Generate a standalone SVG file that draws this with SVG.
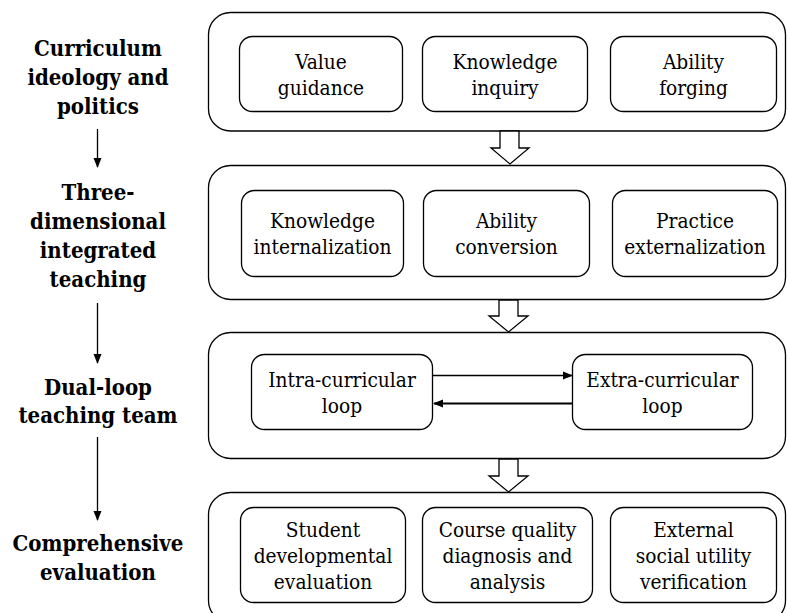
<svg xmlns="http://www.w3.org/2000/svg" width="787" height="613" viewBox="0 0 787 613">
<defs>
<style>
.outer{fill:#fff;stroke:#000;stroke-width:1.3}
.inner{fill:#fff;stroke:#000;stroke-width:1.3}
.lbl{font-family:"DejaVu Serif Condensed","DejaVu Serif",serif;font-stretch:condensed;font-weight:bold;font-size:22px;fill:#000;text-anchor:middle}
.txt{font-family:"DejaVu Serif Condensed","DejaVu Serif",serif;font-stretch:condensed;font-size:20.7px;fill:#000;text-anchor:middle}
.ln{stroke:#000;stroke-width:1.3;fill:none}
.blk{fill:#fff;stroke:#000;stroke-width:1.3}
</style>
<marker id="ah" markerWidth="10" markerHeight="10" refX="9" refY="5" orient="auto" markerUnits="userSpaceOnUse">
<path d="M0,1 L10,5 L0,9 Z" fill="#000"/>
</marker>
</defs>
<rect width="787" height="613" fill="#fff"/>

<g id="label-curriculum">
<text class="lbl" x="98" y="56">Curriculum</text>
<text class="lbl" x="98" y="85">ideology and</text>
<text class="lbl" x="98" y="114">politics</text>
</g>
<g id="label-three">
<text class="lbl" x="98" y="200">Three-</text>
<text class="lbl" x="98" y="229">dimensional</text>
<text class="lbl" x="98" y="258">integrated</text>
<text class="lbl" x="98" y="287">teaching</text>
</g>
<g id="label-dual">
<text class="lbl" x="98" y="395">Dual-loop</text>
<text class="lbl" x="98" y="423">teaching team</text>
</g>
<g id="label-comp">
<text class="lbl" x="98" y="551">Comprehensive</text>
<text class="lbl" x="98" y="580">evaluation</text>
</g>

<g id="stage1">
<rect class="outer" x="208.5" y="12.5" width="577" height="118.5" rx="22"/>
<g id="value-guidance"><rect class="inner" x="239.5" y="36.5" width="163" height="75" rx="13"/>
<text class="txt" x="321" y="69">Value</text><text class="txt" x="321" y="95">guidance</text></g>
<g id="knowledge-inquiry"><rect class="inner" x="422.5" y="36.5" width="165" height="75" rx="13"/>
<text class="txt" x="505" y="69">Knowledge</text><text class="txt" x="505" y="95">inquiry</text></g>
<g id="ability-forging"><rect class="inner" x="610.5" y="36.5" width="166" height="75" rx="13"/>
<text class="txt" x="693.5" y="69">Ability</text><text class="txt" x="693.5" y="95">forging</text></g>
</g>

<g id="stage2">
<rect class="outer" x="208.5" y="165.5" width="577" height="134" rx="22"/>
<g id="knowledge-internalization"><rect class="inner" x="241.5" y="190.5" width="162" height="86" rx="13"/>
<text class="txt" x="322.5" y="228">Knowledge</text><text class="txt" x="322.5" y="254">internalization</text></g>
<g id="ability-conversion"><rect class="inner" x="423.5" y="190.5" width="166" height="86" rx="13"/>
<text class="txt" x="506.5" y="228">Ability</text><text class="txt" x="506.5" y="254">conversion</text></g>
<g id="practice-externalization"><rect class="inner" x="612.5" y="190.5" width="165" height="86" rx="13"/>
<text class="txt" x="695" y="228">Practice</text><text class="txt" x="695" y="254">externalization</text></g>
</g>

<g id="stage3">
<rect class="outer" x="208.5" y="332.5" width="577" height="126" rx="22"/>
<g id="intra-loop"><rect class="inner" x="251.5" y="354.5" width="181" height="75" rx="13"/>
<text class="txt" x="342" y="387">Intra-curricular</text><text class="txt" x="342" y="413">loop</text></g>
<g id="extra-loop"><rect class="inner" x="572.5" y="354.5" width="180" height="75" rx="13"/>
<text class="txt" x="662.5" y="387">Extra-curricular</text><text class="txt" x="662.5" y="413">loop</text></g>
</g>

<g id="stage4">
<rect class="outer" x="208.5" y="492.5" width="577" height="130" rx="22"/>
<g id="student-eval"><rect class="inner" x="240.5" y="507.5" width="165" height="95" rx="13"/>
<text class="txt" x="323" y="537">Student</text><text class="txt" x="323" y="563">developmental</text><text class="txt" x="323" y="589">evaluation</text></g>
<g id="course-quality"><rect class="inner" x="422.5" y="507.5" width="170" height="95" rx="13"/>
<text class="txt" x="507.5" y="537">Course quality</text><text class="txt" x="507.5" y="563">diagnosis and</text><text class="txt" x="507.5" y="589">analysis</text></g>
<g id="external-social"><rect class="inner" x="610.5" y="507.5" width="166" height="95" rx="13"/>
<text class="txt" x="693.5" y="537">External</text><text class="txt" x="693.5" y="563">social utility</text><text class="txt" x="693.5" y="589">verification</text></g>
</g>

<g id="connectors">
<line class="ln" x1="97.5" y1="129" x2="97.5" y2="167" marker-end="url(#ah)"/>
<line class="ln" x1="97.5" y1="303" x2="97.5" y2="363" marker-end="url(#ah)"/>
<line class="ln" x1="97.5" y1="437" x2="97.5" y2="520" marker-end="url(#ah)"/>
<line x1="433" y1="375.5" x2="572" y2="375.5" stroke="#000" stroke-width="1.6" marker-end="url(#ah)"/>
<line x1="572" y1="403.5" x2="434" y2="403.5" stroke="#000" stroke-width="2" marker-end="url(#ah)"/>
<path class="blk" d="M500,131 L519,131 L519,148 L529,148 L510,164 L491,148 L500,148 Z"/>
<path class="blk" d="M499,300 L518,300 L518,316 L528,316 L508.5,332 L489,316 L499,316 Z"/>
<path class="blk" d="M499,459 L518,459 L518,476 L528,476 L508.5,492 L489,476 L499,476 Z"/>
</g>
</svg>
